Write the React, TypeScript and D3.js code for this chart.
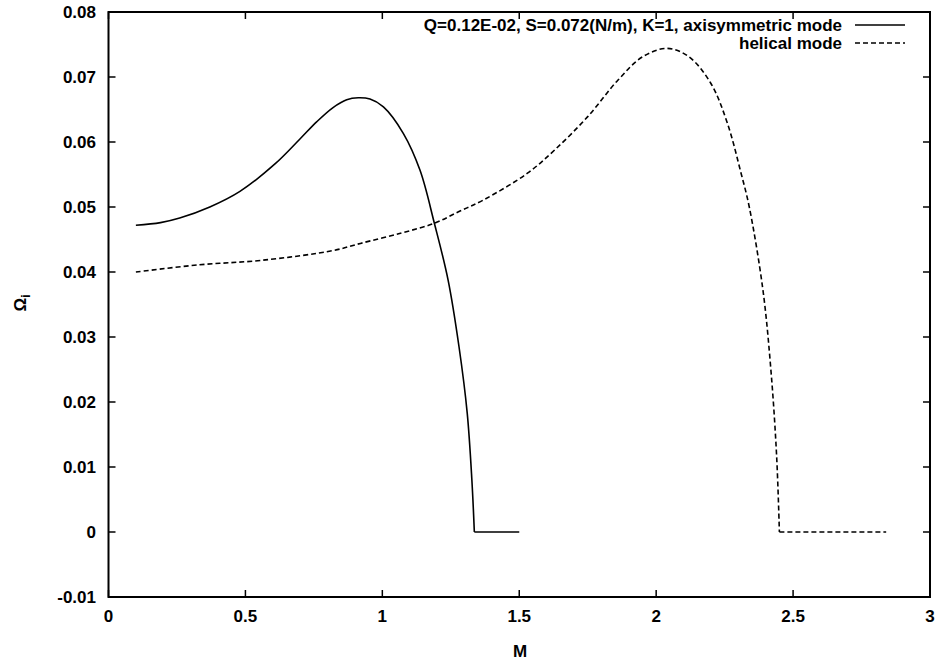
import React from "react";
import * as d3 from "d3";

const axisM = [0.1, 0.19, 0.26, 0.37, 0.48, 0.61, 0.7, 0.76, 0.82, 0.87, 0.912, 0.955, 1.004, 1.077, 1.138, 1.19, 1.24, 1.28, 1.31, 1.327, 1.336, 1.5];
const axisOmega = [0.0472, 0.0476, 0.0483, 0.05, 0.0524, 0.0567, 0.0605, 0.0631, 0.0653, 0.0665, 0.0668, 0.0666, 0.0654, 0.0613, 0.0556, 0.0475, 0.0388, 0.0285, 0.0183, 0.008, 0, 0];

const helM = [0.1, 0.33, 0.56, 0.82, 0.92, 1.07, 1.19, 1.28, 1.37, 1.53, 1.63, 1.75, 1.86, 1.95, 2.04, 2.12, 2.2, 2.26, 2.31, 2.34, 2.39, 2.42, 2.44, 2.45, 2.84];
const helOmega = [0.04, 0.0411, 0.0418, 0.0433, 0.0444, 0.046, 0.0475, 0.0493, 0.0511, 0.0552, 0.0588, 0.0639, 0.0695, 0.0731, 0.0744, 0.0731, 0.069, 0.0629, 0.0552, 0.05, 0.0372, 0.0244, 0.0116, 0, 0];

const xTicks = [0, 0.5, 1, 1.5, 2, 2.5, 3];
const xTickLabels = ["0", "0.5", "1", "1.5", "2", "2.5", "3"];
const yTicks = [-0.01, 0, 0.01, 0.02, 0.03, 0.04, 0.05, 0.06, 0.07, 0.08];
const yTickLabels = ["-0.01", "0", "0.01", "0.02", "0.03", "0.04", "0.05", "0.06", "0.07", "0.08"];

const legendLabels = ["Q=0.12E-02, S=0.072(N/m), K=1, axisymmetric mode", "helical mode"];

const W = 939;
const H = 663;
const L = 108.5, R = 930, T = 12, B = 597;
const FONT = "'Liberation Sans', Arial, Helvetica, sans-serif";

export default function App() {
  const x = d3.scaleLinear().domain([0, 3]).range([L, R]);
  const y = d3.scaleLinear().domain([-0.01, 0.08]).range([B, T]);
  const smooth = d3
    .line<[number, number]>()
    .x((d) => x(d[0]))
    .y((d) => y(d[1]))
    .curve(d3.curveCatmullRom.alpha(0.5));
  const straight = d3
    .line<[number, number]>()
    .x((d) => x(d[0]))
    .y((d) => y(d[1]));

  const build = (ms: number[], vs: number[]) => {
    const pts = ms.map((m, i) => [m, vs[i]] as [number, number]);
    const z = vs.indexOf(0);
    const curvePart = pts.slice(0, z + 1);
    const flatPart = pts.slice(z);
    return (smooth(curvePart) || "") + (straight(flatPart) || "");
  };

  const tl = 7;
  const textStyle = { fontFamily: FONT, fontSize: 17, fontWeight: "bold", fill: "#000" } as const;

  return (
    <svg width={W} height={H} style={{ position: "fixed", left: 0, top: 0, background: "#fff" }}>
      <rect x={0} y={0} width={W} height={H} fill="#fff" />
      {xTicks.map((t, i) => (
        <g key={"xt" + i}>
          <line x1={x(t)} x2={x(t)} y1={B} y2={B - tl} stroke="#000" strokeWidth={1.5} />
          <line x1={x(t)} x2={x(t)} y1={T} y2={T + tl} stroke="#000" strokeWidth={1.5} />
          <text x={x(t)} y={622} textAnchor="middle" {...textStyle}>
            {xTickLabels[i]}
          </text>
        </g>
      ))}
      {yTicks.map((t, i) => (
        <g key={"yt" + i}>
          <line x1={L} x2={L + tl} y1={y(t)} y2={y(t)} stroke="#000" strokeWidth={1.5} />
          <line x1={R} x2={R - tl} y1={y(t)} y2={y(t)} stroke="#000" strokeWidth={1.5} />
          <text x={96} y={y(t) + 6} textAnchor="end" {...textStyle}>
            {yTickLabels[i]}
          </text>
        </g>
      ))}
      <rect x={L} y={T} width={R - L} height={B - T} fill="none" stroke="#000" strokeWidth={2} />
      <path d={build(axisM, axisOmega)} fill="none" stroke="#000" strokeWidth={1.6} />
      <path d={build(helM, helOmega)} fill="none" stroke="#000" strokeWidth={1.6} strokeDasharray="5,3" />
      <text x={842} y={31} textAnchor="end" {...textStyle}>
        {legendLabels[0]}
      </text>
      <line x1={855} x2={905} y1={25} y2={25} stroke="#000" strokeWidth={1.6} />
      <text x={842} y={49} textAnchor="end" {...textStyle}>
        {legendLabels[1]}
      </text>
      <line x1={855} x2={905} y1={43} y2={43} stroke="#000" strokeWidth={1.6} strokeDasharray="5,3" />
      <text x={520} y={657} textAnchor="middle" {...textStyle}>
        M
      </text>
      <text transform="translate(26,303) rotate(-90)" textAnchor="middle" {...textStyle}>
        Ω<tspan fontSize={12} dy={4}>i</tspan>
      </text>
    </svg>
  );
}
